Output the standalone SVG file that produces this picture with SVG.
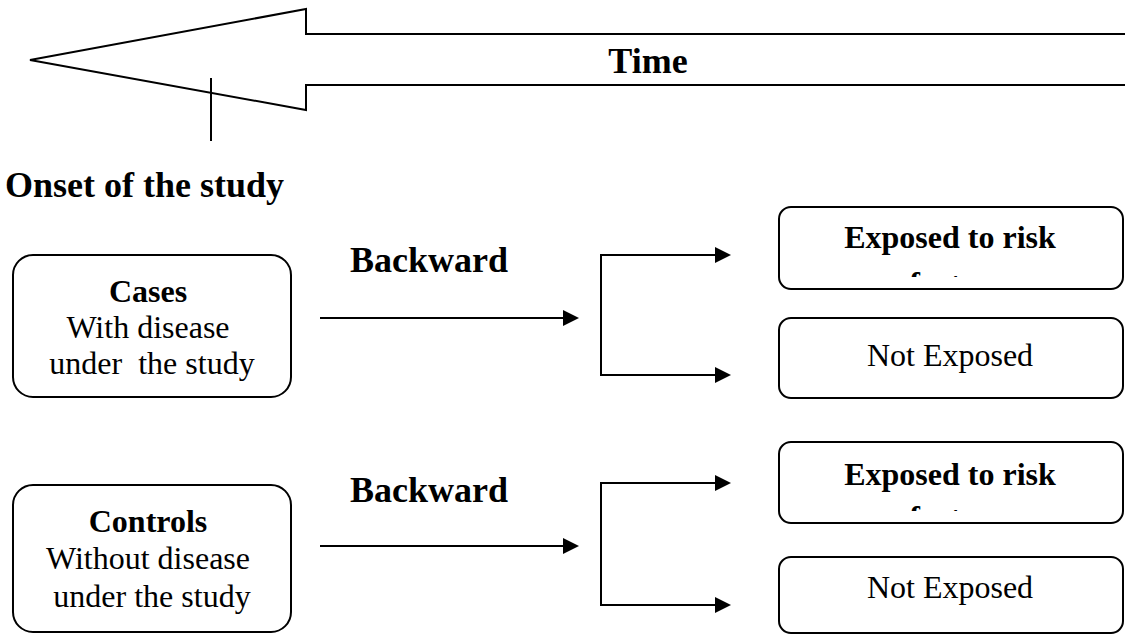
<svg xmlns="http://www.w3.org/2000/svg" width="1125" height="635" viewBox="0 0 1125 635">
  <style>
    .box { fill: #fff; stroke: #000; stroke-width: 2; }
    .line { fill: none; stroke: #000; stroke-width: 2; }
    .head { fill: #000; stroke: none; }
    .b { font-weight: bold; }
  </style>
  <defs>
    <clipPath id="clipE1"><rect x="779" y="207" width="344" height="70"/></clipPath>
    <clipPath id="clipE2"><rect x="779" y="442" width="344" height="69"/></clipPath>
  </defs>

  <rect width="1125" height="635" fill="#fff"/>

  <g font-family="Liberation Serif, Times New Roman, serif" fill="#000">
    <!-- time axis: hollow arrow pointing back in time -->
    <g id="time-arrow">
      <path class="line" d="M1130,34 H306 V9 L30,60 L306,110 V85 H1130"/>
      <text class="b" font-size="36" x="648" y="73" text-anchor="middle">Time</text>
    </g>

    <!-- study onset marker -->
    <g id="onset">
      <line class="line" x1="211" y1="78" x2="211" y2="141"/>
      <text class="b" font-size="36" x="5" y="197">Onset of the study</text>
    </g>

    <g id="cases">
      <rect class="box" x="13" y="255" width="278" height="142" rx="20"/>
      <text font-size="32" text-anchor="middle">
        <tspan class="b" x="152" y="302">Cases</tspan>
        <tspan x="152" y="338">With disease</tspan>
        <tspan x="152" y="374" xml:space="preserve">under  the study</tspan>
      </text>
    </g>

    <g id="controls">
      <rect class="box" x="13" y="485" width="278" height="147" rx="20"/>
      <text font-size="32" text-anchor="middle">
        <tspan class="b" x="152" y="532">Controls</tspan>
        <tspan x="152" y="569">Without disease</tspan>
        <tspan x="152" y="607">under the study</tspan>
      </text>
    </g>

    <g id="cases-exposed">
      <rect class="box" x="779" y="207" width="344" height="82" rx="12"/>
      <g clip-path="url(#clipE1)" font-size="32" class="b" text-anchor="middle">
        <text x="950" y="248">Exposed to risk</text>
        <text x="950" y="294">factor</text>
      </g>
    </g>

    <g id="cases-not-exposed">
      <rect class="box" x="779" y="318" width="344" height="80" rx="12"/>
      <text font-size="32" x="950" y="366" text-anchor="middle">Not Exposed</text>
    </g>

    <g id="controls-exposed">
      <rect class="box" x="779" y="442" width="344" height="81" rx="12"/>
      <g clip-path="url(#clipE2)" font-size="32" class="b" text-anchor="middle">
        <text x="950" y="485">Exposed to risk</text>
        <text x="950" y="528">factor</text>
      </g>
    </g>

    <g id="controls-not-exposed">
      <rect class="box" x="779" y="557" width="344" height="76" rx="12"/>
      <text font-size="32" x="950" y="598" text-anchor="middle">Not Exposed</text>
    </g>

    <!-- connectors: lines with solid triangular heads -->
    <g id="connectors">
      <text class="b" font-size="36" x="350" y="272">Backward</text>
      <line class="line" x1="320" y1="318" x2="566" y2="318"/>
      <path class="head" d="M563,310 L579,318 L563,326 Z"/>
      <path class="line" d="M718,255 H601 V375 H718"/>
      <path class="head" d="M715,247 L731,255 L715,263 Z"/>
      <path class="head" d="M715,367 L731,375 L715,383 Z"/>

      <text class="b" font-size="36" x="350" y="502">Backward</text>
      <line class="line" x1="320" y1="546" x2="566" y2="546"/>
      <path class="head" d="M563,538 L579,546 L563,554 Z"/>
      <path class="line" d="M718,483 H601 V605 H718"/>
      <path class="head" d="M715,475 L731,483 L715,491 Z"/>
      <path class="head" d="M715,597 L731,605 L715,613 Z"/>
    </g>
  </g>
</svg>
